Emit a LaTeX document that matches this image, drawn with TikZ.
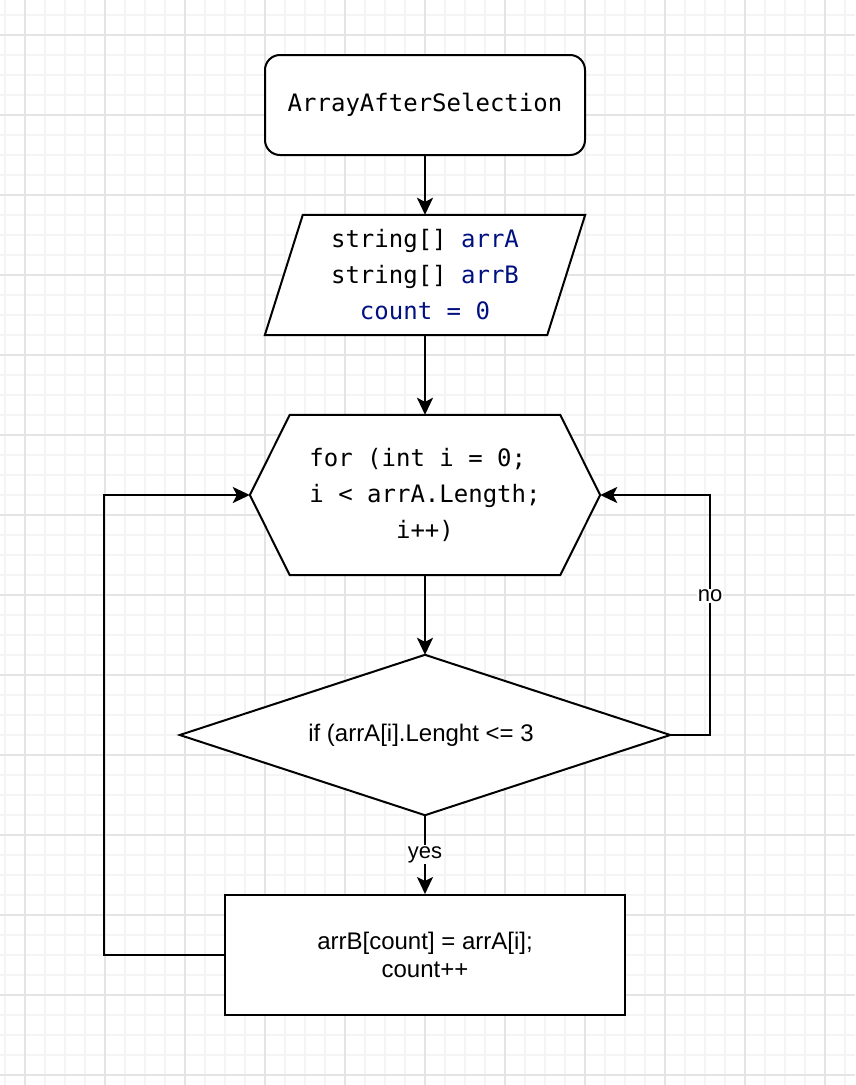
\documentclass[tikz,border=0pt]{standalone}
\usepackage{fontspec}
\setmainfont{Liberation Sans}
\newfontfamily\codefont{DejaVu Sans Mono}
\usetikzlibrary{arrows.meta,calc,backgrounds}
\definecolor{codeblue}{HTML}{001080}
\definecolor{gridminor}{HTML}{F4F4F4}
\definecolor{gridmajor}{HTML}{E4E4E4}

\begin{document}
\begin{tikzpicture}[x=1pt,y=-1pt,
  box/.style={draw=black, line width=2pt, fill=white, inner sep=0pt, align=center},
  frame/.style={inner sep=0pt, align=center},
  outline/.style={draw=black, line width=2pt, fill=white, line join=miter},
  code/.style={font=\codefont\fontsize{24}{36}\selectfont},
  plain/.style={font=\fontsize{24}{28.8}\selectfont},
  flow/.style={line width=2pt, -{Stealth[length=17pt,width=16pt,inset=4pt]}},
  tag/.style={fill=white, inner sep=1pt, font=\fontsize{22}{26}\selectfont}
]
% canvas
\useasboundingbox (0,0) rectangle (855,1085);

% nodes (outlines of the non-rectangular ones are added below)
\node[box, rounded corners=15pt, minimum width=320pt, minimum height=100pt, code]
  (start) at (425,105) {ArrayAfterSelection};
\node[frame, minimum width=320pt, minimum height=120pt, code] (vars) at (425,275)
  {string[] \textcolor{codeblue}{arrA}\\string[] \textcolor{codeblue}{arrB}\\\textcolor{codeblue}{count = 0}};
\node[frame, minimum width=350pt, minimum height=160pt, code] (loop) at (425,495)
  {for (int i = 0;\hphantom{;}\\i < arrA.Length;\\i++)};
\node[frame, minimum width=490pt, minimum height=160pt, plain] (test) at (425,735)
  {\hspace*{-8pt}if (arrA[i].Lenght <= 3};
\node[box, minimum width=400pt, minimum height=120pt, plain] (body) at (425,955)
  {arrB[count] = arrA[i];\\count++};

\begin{scope}[on background layer]
  \fill[white] (0,0) rectangle (855,1085);
  % grid paper
  \foreach \k in {0,...,42}
    \draw[gridminor, line width=2pt] ({5+20*\k},0) -- ({5+20*\k},1085);
  \foreach \k in {0,...,53}
    \draw[gridminor, line width=2pt] (0,{15+20*\k}) -- (855,{15+20*\k});
  \foreach \k in {0,...,10}
    \draw[gridmajor, line width=2pt] ({25+80*\k},0) -- ({25+80*\k},1085);
  \foreach \k in {0,...,13}
    \draw[gridmajor, line width=2pt] (0,{35+80*\k}) -- (855,{35+80*\k});
  % parallelogram
  \draw[outline] ($(vars.north west)+(38,0)$) -- (vars.north east)
    -- ($(vars.south east)-(38,0)$) -- (vars.south west) -- cycle;
  % hexagon
  \draw[outline] (loop.west) -- ($(loop.north west)+(40,0)$) -- ($(loop.north east)-(40,0)$)
    -- (loop.east) -- ($(loop.south east)-(40,0)$) -- ($(loop.south west)+(40,0)$) -- cycle;
  % diamond
  \draw[outline] (test.west) -- (test.north) -- (test.east) -- (test.south) -- cycle;
\end{scope}

% connectors
\draw[flow] (start.south) -- (vars.north);
\draw[flow] (vars.south) -- (loop.north);
\draw[flow] (loop.south) -- (test.north);
\draw[flow] (test.south) -- node[tag]{yes} (body.north);
\draw[flow] (test.east) -- ++(40,0) |- node[tag, pos=0.29]{no} (loop.east);
\draw[flow] (body.west) -- ++(-120,0) |- (loop.west);
\end{tikzpicture}
\end{document}
